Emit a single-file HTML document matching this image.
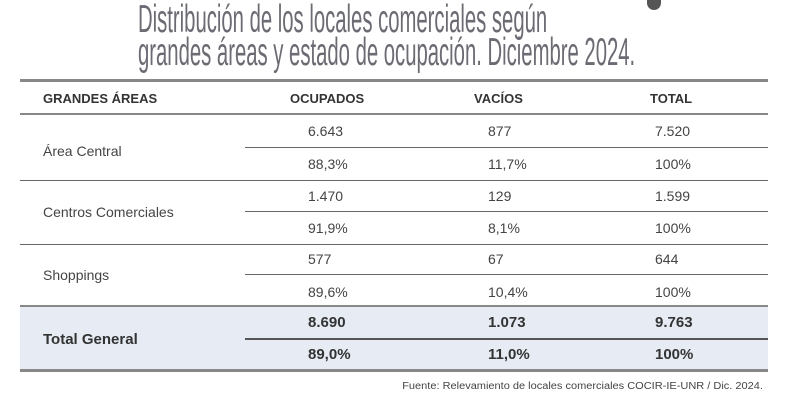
<!DOCTYPE html>
<html><head><meta charset="utf-8"><style>
body{margin:0;width:800px;height:400px;background:#fff;position:relative;overflow:hidden;font-family:"Liberation Sans",sans-serif;color:#444}
.t{position:absolute;left:138px;font-family:"Liberation Sans Narrow","Liberation Sans",sans-serif;font-size:39px;color:#6b6b73;transform-origin:0 0;white-space:nowrap;line-height:1}
.r{position:absolute;left:20px;width:748px;background:#888}
.s{position:absolute;height:1px;background:#666}
.c{position:absolute;font-size:14px;white-space:nowrap;line-height:1}
.h{font-weight:bold;font-size:13px;color:#333}
.b{font-weight:bold;color:#333;font-size:15px}
</style></head><body>
<div style="position:absolute;left:647px;top:0;width:14px;height:10px;background:#555;border-radius:0 0 7px 7px"></div>
<div class="t" style="top:0px;transform:scaleX(0.52)">Distribución de los locales comerciales según</div>
<div class="t" style="top:33px;transform:scaleX(0.52)">grandes áreas y estado de ocupación. Diciembre 2024.</div>
<div style="position:absolute;left:20px;top:306px;width:748px;height:64px;background:#e6ebf4"></div>
<div class="r" style="top:79px;height:3px"></div>
<div class="r" style="top:113px;height:2px"></div>
<div class="s" style="left:245px;width:523px;top:147px"></div>
<div class="s" style="left:20px;width:748px;top:180px"></div>
<div class="s" style="left:245px;width:523px;top:211px"></div>
<div class="s" style="left:20px;width:748px;top:244px"></div>
<div class="s" style="left:245px;width:523px;top:274px"></div>
<div class="r" style="top:305px;height:2px"></div>
<div class="s" style="left:245px;width:523px;top:338px;height:2px;background:#555"></div>
<div class="r" style="top:369px;height:3px"></div>
<div class="c h" style="left:43px;top:92px">GRANDES ÁREAS</div>
<div class="c h" style="left:290px;top:92px">OCUPADOS</div>
<div class="c h" style="left:474px;top:92px">VACÍOS</div>
<div class="c h" style="left:650px;top:92px">TOTAL</div>
<div class="c" style="left:43px;top:144px">Área Central</div>
<div class="c" style="left:43px;top:205px">Centros Comerciales</div>
<div class="c" style="left:43px;top:268px">Shoppings</div>
<div class="c" style="left:308px;top:124px">6.643</div><div class="c" style="left:488px;top:124px">877</div><div class="c" style="left:655px;top:124px">7.520</div>
<div class="c" style="left:308px;top:157px">88,3%</div><div class="c" style="left:488px;top:157px">11,7%</div><div class="c" style="left:655px;top:157px">100%</div>
<div class="c" style="left:308px;top:189px">1.470</div><div class="c" style="left:488px;top:189px">129</div><div class="c" style="left:655px;top:189px">1.599</div>
<div class="c" style="left:308px;top:221px">91,9%</div><div class="c" style="left:488px;top:221px">8,1%</div><div class="c" style="left:655px;top:221px">100%</div>
<div class="c" style="left:308px;top:252px">577</div><div class="c" style="left:488px;top:252px">67</div><div class="c" style="left:655px;top:252px">644</div>
<div class="c" style="left:308px;top:285px">89,6%</div><div class="c" style="left:488px;top:285px">10,4%</div><div class="c" style="left:655px;top:285px">100%</div>
<div class="c b" style="left:43px;top:332px">Total General</div>
<div class="c b" style="left:308px;top:315px">8.690</div><div class="c b" style="left:488px;top:315px">1.073</div><div class="c b" style="left:655px;top:315px">9.763</div>
<div class="c b" style="left:308px;top:347px">89,0%</div><div class="c b" style="left:488px;top:347px">11,0%</div><div class="c b" style="left:655px;top:347px">100%</div>
<div class="c" style="right:37px;top:382px;font-size:10px;color:#444;transform:scaleX(1.1);transform-origin:100% 0">Fuente: Relevamiento de locales comerciales COCIR-IE-UNR / Dic. 2024.</div>
</body></html>
